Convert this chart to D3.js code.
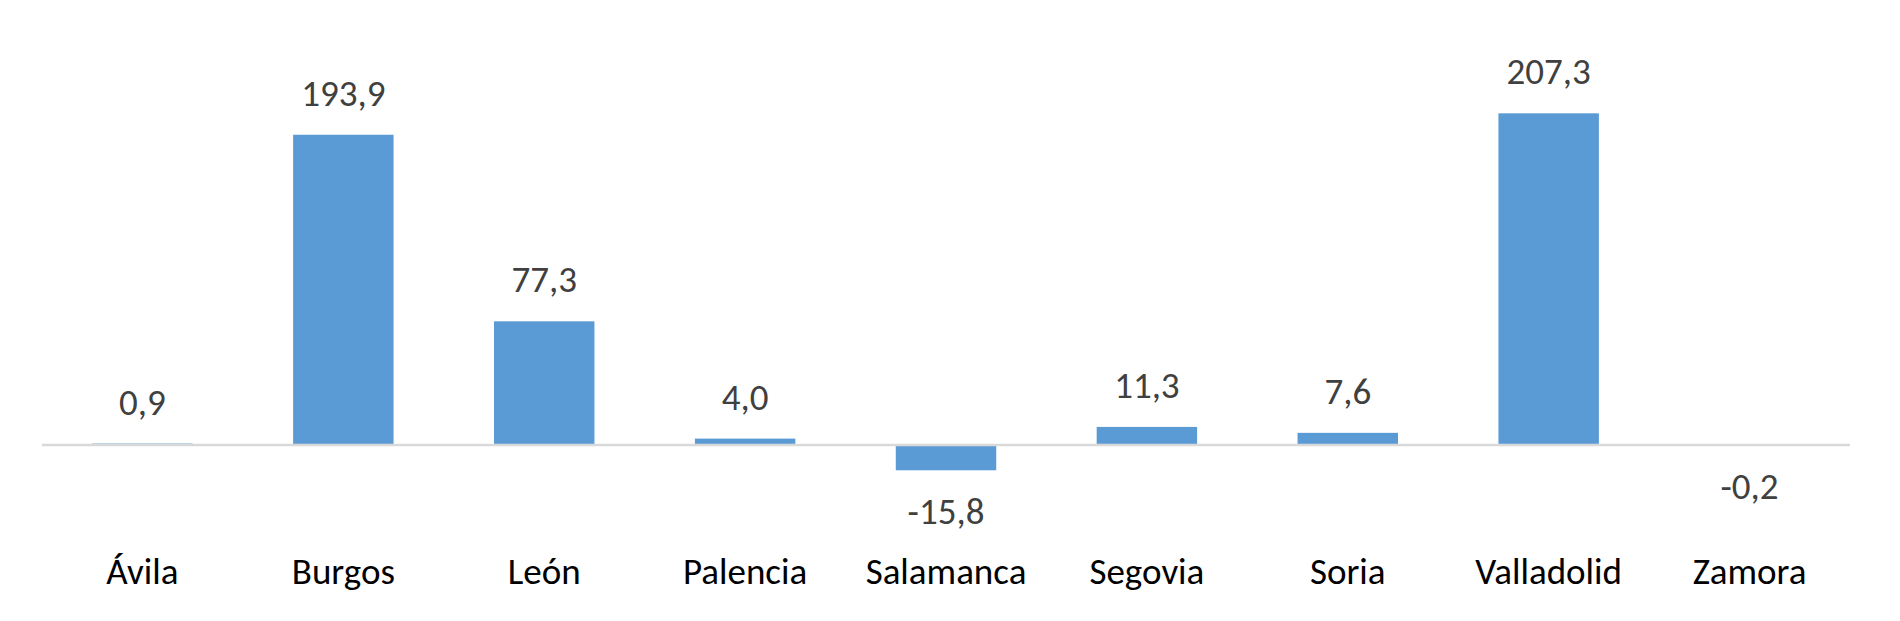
<!DOCTYPE html>
<html><head><meta charset="utf-8">
<script src="https://cdn.jsdelivr.net/npm/d3@7"></script>
<style>body{margin:0;background:#fff;} svg{display:block;}</style>
</head><body>
<svg id="chart" width="1900" height="621"></svg>
<script>
const categories = ["Ávila","Burgos","León","Palencia","Salamanca","Segovia","Soria","Valladolid","Zamora"];
const values = [0.9,193.9,77.3,4.0,-15.8,11.3,7.6,207.3,-0.2];
const labels = ["0,9","193,9","77,3","4,0","-15,8","11,3","7,6","207,3","-0,2"];

const svg = d3.select("#chart");
const left = 42, right = 1850, zeroY = 445;
const x = d3.scaleBand().domain(categories).range([left, right]).paddingInner(0.5).paddingOuter(0.25);
const y = d3.scaleLinear().domain([-15.8, 207.3]).range([zeroY + 15.8*1.6, zeroY - 207.3*1.6]);
const font = "Carlito, Calibri, Lato, sans-serif";

svg.selectAll("rect.bar").data(values).join("rect")
  .attr("class","bar")
  .attr("x",(d,i)=>x(categories[i]))
  .attr("width",x.bandwidth())
  .attr("y",d=>Math.min(y(d),y(0)))
  .attr("height",d=>Math.abs(y(d)-y(0)))
  .attr("fill","#5B9BD5");

svg.append("line").attr("x1",left).attr("x2",right).attr("y1",y(0)).attr("y2",y(0))
  .attr("stroke","#d9d9d9").attr("stroke-width",2.5);

svg.selectAll("text.val").data(values).join("text")
  .attr("class","val")
  .attr("x",(d,i)=>x(categories[i])+x.bandwidth()/2)
  .attr("y",d=> d>=0 ? y(d)-29 : y(d)+54)
  .attr("text-anchor","middle")
  .attr("font-family",font).attr("font-size",37)
  .attr("fill","#404040")
  .text((d,i)=>labels[i]);

svg.selectAll("text.cat").data(categories).join("text")
  .attr("class","cat")
  .attr("x",d=>x(d)+x.bandwidth()/2)
  .attr("y",584)
  .attr("text-anchor","middle")
  .attr("font-family",font).attr("font-size",37)
  .attr("fill","#000")
  .text(d=>d);
</script>
</body></html>
